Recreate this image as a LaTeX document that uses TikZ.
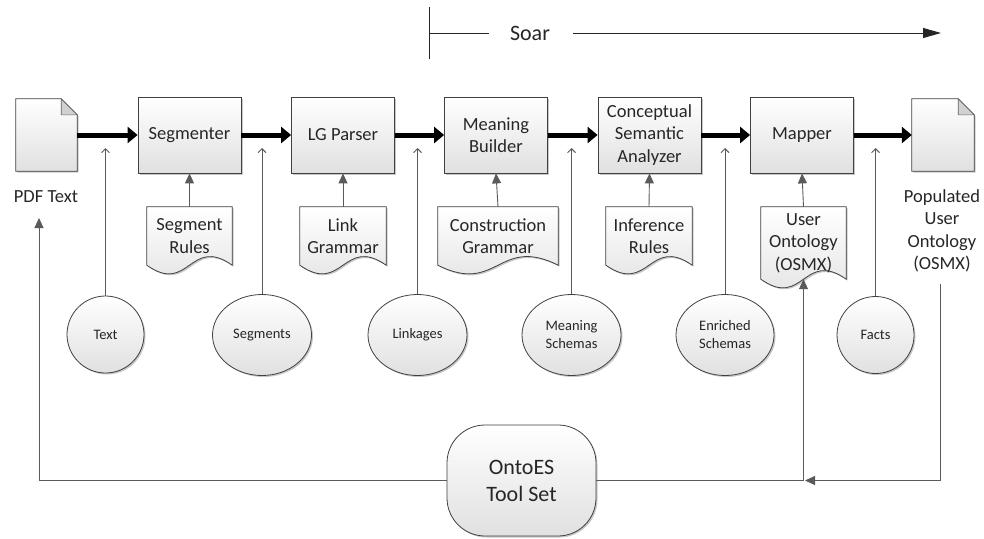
\documentclass[tikz,border=0pt]{standalone}
\usepackage{fontspec}
\setmainfont{Carlito}
\usetikzlibrary{arrows.meta,shadows,shapes.geometric,calc}
\pgfdeclarelayer{bg}
\pgfsetlayers{bg,main}
\definecolor{edge}{HTML}{404040}
\definecolor{conn}{HTML}{5A5A5A}
\definecolor{txt}{HTML}{262626}
\tikzset{
 shad/.style={drop shadow={shadow xshift=1.5pt,shadow yshift=-1.5pt,opacity=0.22,fill=black}},
 fillgrad/.style={top color=white,bottom color=black!12},
 bigtext/.style={font=\fontsize{18.5}{22.5}\selectfont,text=txt},
 proc/.style={rectangle,draw=edge,line width=0.8pt,fillgrad,shad,minimum width=103pt,minimum height=76pt,align=center,bigtext,inner sep=0pt},
 docholder/.style={rectangle,draw=none,align=center,bigtext,inner sep=0pt},
 docshape/.style={draw=edge,line width=0.8pt,fillgrad,shad},
 dataell/.style={ellipse,draw=edge,line width=0.8pt,fillgrad,shad,align=center,font=\fontsize{14.5}{18}\selectfont,text=txt,inner sep=0pt},
 lbl/.style={align=center,bigtext,inner sep=0pt},
 bigflow/.style={line width=5pt,draw=black,-{Triangle[length=10pt,width=16pt]}},
 feed/.style={draw=conn,line width=0.9pt,-{Triangle[length=10pt,width=9pt]}},
 openup/.style={draw=conn,line width=0.9pt,-{Straight Barb[length=4pt,width=8pt]}},
 soarline/.style={draw=black!85,line width=1pt},
}
\newcommand\wavedoc[2]{%
 \begin{pgfonlayer}{bg}
 \path[docshape] (#1.north west) -- (#1.south west) .. controls +(#2,30) and +(-#2,-30) .. (#1.south east) -- (#1.north east) -- cycle;
 \end{pgfonlayer}}
\newcommand\pagedoc[1]{%
 \begin{pgfonlayer}{bg}
 \path[docshape] (#1.south west) -- (#1.north west) -- ([xshift=-16pt]#1.north east) -- ([yshift=-16pt]#1.north east) -- (#1.south east) -- cycle;
 \path[draw=edge!80,fill=black!18,line width=0.6pt] ([xshift=-16pt]#1.north east) -- ([xshift=-16pt,yshift=-16pt]#1.north east) -- ([yshift=-16pt]#1.north east) -- cycle;
 \end{pgfonlayer}}
\begin{document}
\begin{tikzpicture}[x=1pt,y=-1pt]
\useasboundingbox (0,0) rectangle (984,538);

% Soar span
\coordinate (sbt) at (429,7);
\coordinate (sbb) at (429,59);
\coordinate (sl) at (429,33);
\coordinate (slend) at (489,33);
\coordinate (sas) at (573,33);
\coordinate (sae) at (941,33);
\node[font=\fontsize{22}{26}\selectfont,text=txt,inner sep=0pt] (soar) at (530,33) {Soar};
\draw[soarline] (sbt) -- (sbb);
\draw[soarline] (sl) -- (slend);
\draw[soarline,-{Triangle[length=18pt,width=10pt]}] (sas) -- (sae);

% pages
\node[docholder,minimum width=61pt,minimum height=72pt] (pdf) at (46.5,135) {};
\pagedoc{pdf}
\node[docholder,minimum width=62pt,minimum height=72pt] (pop) at (943,135) {};
\pagedoc{pop}
\node[lbl] (pdflbl) at (46,197) {PDF Text};
\node[lbl] (poplbl) at (942,231) {Populated\\User\\Ontology\\(OSMX)};

% process boxes
\node[proc] (seg) at (189.5,135) {Segmenter};
\node[proc] (lgp) at (343,135) {LG Parser};
\node[proc] (mb) at (496,135) {Meaning\\Builder};
\node[proc] (csa) at (649.5,135) {Conceptual\\Semantic\\Analyzer};
\node[proc] (map) at (802,135) {Mapper};

% main flow
\draw[bigflow] (pdf.east) -- (seg.west);
\draw[bigflow] (seg.east) -- (lgp.west);
\draw[bigflow] (lgp.east) -- (mb.west);
\draw[bigflow] (mb.east) -- (csa.west);
\draw[bigflow] (csa.east) -- (map.west);
\draw[bigflow] (map.east) -- (pop.west);

% knowledge documents
\node[docholder,minimum width=85pt,minimum height=58pt] (srules) at (189.5,236) {Segment\\Rules};
\wavedoc{srules}{42.5}
\node[docholder,minimum width=86pt,minimum height=58pt] (lgram) at (343,236) {Link\\Grammar};
\wavedoc{lgram}{43}
\node[docholder,minimum width=120pt,minimum height=58pt] (cgram) at (498,236) {Construction\\Grammar};
\wavedoc{cgram}{60}
\node[docholder,minimum width=86pt,minimum height=58pt] (irules) at (649,236) {Inference\\Rules};
\wavedoc{irules}{43}
\node[docholder,minimum width=85pt,minimum height=72pt] (uo) at (803.5,243) {User\\Ontology\\(OSMX)};
\wavedoc{uo}{42.5}

\draw[feed] (srules.north) -- (seg.south);
\draw[feed] (lgram.north) -- (lgp.south);
\draw[feed] (cgram.north) -- (mb.south);
\draw[feed] (irules.north) -- (csa.south);
\draw[feed] (uo.north) -- (map.south);

% data ellipses
\node[dataell,minimum width=77pt,minimum height=77pt] (etext) at (105.5,334.5) {Text};
\node[dataell,minimum width=99pt,minimum height=81pt] (eseg) at (262,335) {Segments};
\node[dataell,minimum width=99pt,minimum height=81pt] (elink) at (417.5,335) {Linkages};
\node[dataell,minimum width=99pt,minimum height=81pt] (emean) at (571.5,335) {Meaning\\Schemas};
\node[dataell,minimum width=98pt,minimum height=81pt] (eenr) at (725,335) {Enriched\\Schemas};
\node[dataell,minimum width=77pt,minimum height=77pt] (efact) at (875.5,335) {Facts};

\coordinate (t1) at (105.5,148);
\coordinate (t2) at (262,148);
\coordinate (t3) at (417.5,148);
\coordinate (t4) at (571.5,148);
\coordinate (t5) at (725,148);
\coordinate (t6) at (875.5,148);
\draw[openup] (etext.north) -- (t1);
\draw[openup] (eseg.north) -- (t2);
\draw[openup] (elink.north) -- (t3);
\draw[openup] (emean.north) -- (t4);
\draw[openup] (eenr.north) -- (t5);
\draw[openup] (efact.north) -- (t6);

% tool set
\node[rectangle,rounded corners=38pt,draw=edge,line width=0.8pt,fillgrad,shad,minimum width=149pt,minimum height=111pt,align=center,font=\fontsize{22}{27}\selectfont,text=txt,inner sep=0pt] (onto) at (521.5,480.5) {OntoES\\Tool Set};

\coordinate (pdftip) at (39,218);
\coordinate (popstart) at (940,284);
\coordinate (popend) at (805,480.5);
\draw[feed] (onto.west) -| (pdftip);
\draw[feed] (onto.east) -| (uo.south);
\draw[feed] (popstart) |- (popend);
\end{tikzpicture}
\end{document}
